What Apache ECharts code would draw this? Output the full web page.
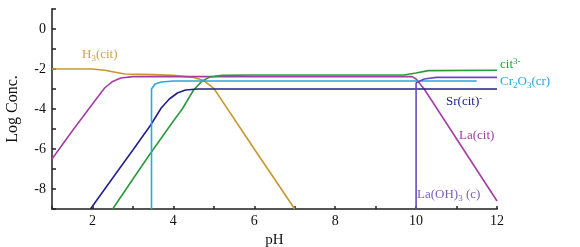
<!DOCTYPE html>
<html><head><meta charset="utf-8">
<script src="https://cdn.jsdelivr.net/npm/echarts@6/dist/echarts.min.js"></script>
<style>html,body{margin:0;padding:0;background:#fff}#c{width:580px;height:247px}</style>
</head><body><div id="c"></div>
<script>
const xTicks = [2, 4, 6, 8, 10, 12];
const yTicks = [0, -2, -4, -6, -8];
const h3cit = [[1.0,-2.0],[2.0,-2.0],[2.3,-2.06],[2.8,-2.25],[3.5,-2.28],[4.0,-2.32],[4.5,-2.42],[4.75,-2.58],[5.0,-2.97],[6.0,-6.0],[7.0,-9.0]];
const lacit = [[1.0,-6.5],[1.5,-5.1],[2.0,-3.75],[2.3,-2.95],[2.5,-2.62],[2.7,-2.45],[3.0,-2.38],[9.9,-2.38],[10.0,-2.5],[10.2,-3.0],[12.0,-8.6]];
const cit3 = [[2.5,-9.0],[3.0,-7.5],[3.44,-6.2],[4.0,-4.6],[4.22,-4.0],[4.5,-3.05],[4.7,-2.62],[4.9,-2.4],[5.2,-2.32],[6.0,-2.3],[9.7,-2.3],[10.0,-2.2],[10.3,-2.08],[12.0,-2.06]];
const srcit = [[1.95,-9.0],[2.5,-7.45],[3.0,-6.05],[3.44,-4.8],[3.7,-3.95],[3.9,-3.5],[4.1,-3.2],[4.3,-3.05],[4.6,-3.0],[12.0,-3.0]];
const cr2o3 = [[3.46,-9.0],[3.46,-3.0],[3.55,-2.75],[3.7,-2.65],[4.0,-2.6],[11.5,-2.6]];
const laoh3 = [[10.0,-9.0],[10.0,-2.7],[10.2,-2.5],[10.5,-2.42],[12.0,-2.42]];

const FONT = '"Liberation Serif", "DejaVu Serif", serif';
const AX = '#555';
const chart = echarts.init(document.getElementById('c'));
function mk(name, data, color) {
  return {name, type:'line', data, showSymbol:false, symbol:'none', smooth:false,
    lineStyle:{color, width:1.6}, itemStyle:{color}, z:2, animation:false};
}
function label(x, y, rich, text, color) {
  return {type:'text', x, y, style:{text, fill:color, font:'13px '+FONT, rich, textVerticalAlign:'middle'}};
}
function richFor(color) {
  return {
    n:{fontSize:13, fontFamily:FONT, fill:color, lineHeight:16, color},
    b:{fontSize:9, fontFamily:FONT, fill:color, lineHeight:9, verticalAlign:'bottom', color},
    p:{fontSize:9, fontFamily:FONT, fill:color, lineHeight:9, verticalAlign:'top', color}
  };
}
chart.setOption({
  animation:false,
  backgroundColor:'#fff',
  grid:{left:52, right:83, top:9, bottom:38, containLabel:false, outerBoundsMode:'none'},
  xAxis:{type:'value', min:1, max:12, interval:1, name:'pH', nameLocation:'middle', nameGap:24,
    nameTextStyle:{fontFamily:FONT, fontSize:15, color:'#111'},
    axisLine:{show:true, onZero:false, lineStyle:{color:AX, width:2}},
    axisTick:{show:true, inside:true, length:3, lineStyle:{color:'#222', width:1.5}},
    axisLabel:{fontFamily:FONT, fontSize:14, color:'#111', margin:5,
      formatter:v => xTicks.indexOf(v) >= 0 ? String(v) : ''},
    splitLine:{show:false}},
  yAxis:{type:'value', min:-9, max:1, interval:1, name:'Log Conc.', nameLocation:'middle', nameGap:31,
    nameTextStyle:{fontFamily:FONT, fontSize:16, color:'#111'},
    axisLine:{show:true, onZero:false, lineStyle:{color:AX, width:2}},
    axisTick:{show:true, inside:true, length:4, lineStyle:{color:'#222', width:1.5}},
    axisLabel:{fontFamily:FONT, fontSize:14, color:'#111', margin:6,
      formatter:v => yTicks.indexOf(v) >= 0 ? String(v) : ''},
    splitLine:{show:false}},
  series:[
    mk('H3(cit)', h3cit, '#c8962e'),
    mk('La(cit)', lacit, '#a43ea6'),
    mk('cit3-', cit3, '#2a9a3e'),
    mk('Sr(cit)-', srcit, '#22228a'),
    mk('Cr2O3(cr)', cr2o3, '#2aa8e0'),
    mk('La(OH)3(c)', laoh3, '#6a48c0')
  ],
  graphic:[
    label(82, 55, richFor('#d0a24a'), '{n|H}{b|3}{n|(cit)}', '#d0a24a'),
    label(500, 65, richFor('#2a9a3e'), '{n|cit}{p|3-}', '#2a9a3e'),
    label(500, 82, richFor('#2aa8e0'), '{n|Cr}{b|2}{n|O}{b|3}{n|(cr)}', '#2aa8e0'),
    label(446, 102, richFor('#22228a'), '{n|Sr(cit)}{p|-}', '#22228a'),
    label(459, 136, richFor('#a43ea6'), '{n|La(cit)}', '#a43ea6'),
    label(417, 195, richFor('#7a62b6'), '{n|La(OH)}{b|3}{n| (c)}', '#7a62b6')
  ]
});
</script></body></html>
